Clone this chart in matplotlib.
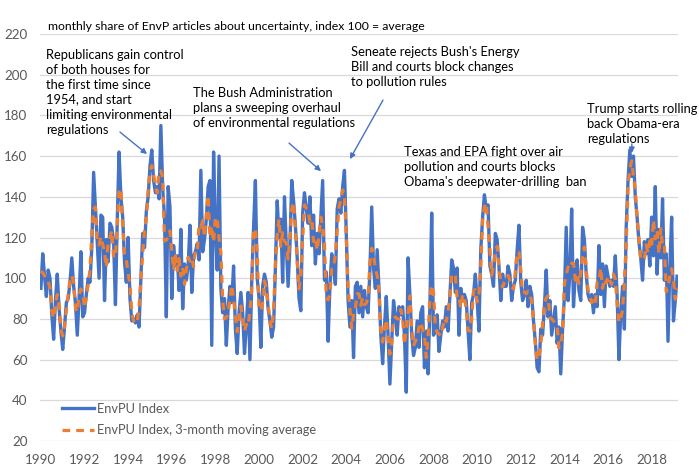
import matplotlib
matplotlib.use("Agg")
import matplotlib.pyplot as plt
import numpy as np
import pandas as pd

# ---------------- data (monthly, Jan 1990 - Mar 2019) ----------------
yr1990 = [95, 112, 101, 91, 104, 100, 82, 70, 89, 102, 85, 74]
yr1991 = [65, 76, 88, 90, 98, 110, 96, 88, 72, 90, 113, 81]
yr1992 = [83, 92, 100, 98, 115, 152, 135, 118, 100, 131, 130, 89]
yr1993 = [119, 108, 127, 125, 118, 87, 128, 162, 140, 130, 108, 98]
yr1994 = [120, 90, 79, 80, 78, 82, 76, 100, 122, 115, 133, 140]
yr1995 = [155, 163, 148, 142, 145, 139, 175, 144, 130, 81, 145, 135]
yr1996 = [90, 116, 106, 111, 94, 124, 85, 107, 99, 106, 126, 93]
yr1997 = [111, 113, 117, 109, 153, 113, 119, 129, 145, 148, 67, 162]
yr1998 = [124, 104, 160, 95, 83, 90, 67, 85, 96, 88, 106, 75]
yr1999 = [63, 83, 93, 83, 63, 76, 93, 60, 99, 125, 148, 100]
yr2000 = [90, 66, 96, 102, 98, 85, 79, 71, 76, 105, 138, 120]
yr2001 = [129, 98, 140, 116, 96, 116, 148, 138, 126, 110, 90, 84]
yr2002 = [132, 142, 134, 127, 140, 116, 131, 107, 122, 112, 130, 148]
yr2003 = [99, 103, 69, 96, 112, 105, 97, 134, 139, 132, 145, 153]
yr2004 = [122, 89, 76, 89, 61, 96, 98, 83, 96, 81, 94, 86]
yr2005 = [83, 104, 135, 105, 95, 114, 95, 72, 58, 76, 91, 72]
yr2006 = [48, 68, 89, 82, 72, 86, 82, 86, 72, 44, 110, 92]
yr2007 = [72, 62, 66, 79, 66, 83, 86, 56, 74, 53, 86, 132]
yr2008 = [72, 74, 82, 64, 72, 79, 76, 86, 74, 91, 109, 105]
yr2009 = [93, 105, 72, 95, 89, 92, 89, 74, 60, 88, 92, 102]
yr2010 = [89, 74, 114, 130, 141, 134, 136, 106, 102, 96, 122, 119]
yr2011 = [106, 89, 102, 96, 96, 106, 102, 89, 96, 99, 114, 126]
yr2012 = [98, 89, 92, 99, 86, 96, 92, 79, 69, 56, 54, 75]
yr2013 = [72, 86, 104, 81, 89, 72, 79, 86, 68, 76, 53, 75]
yr2014 = [91, 125, 89, 102, 134, 86, 102, 109, 94, 89, 125, 119]
yr2015 = [102, 92, 89, 92, 83, 92, 86, 116, 92, 107, 86, 106]
yr2016 = [101, 96, 99, 96, 111, 92, 60, 83, 96, 75, 125, 148]
yr2017 = [163, 150, 160, 140, 130, 118, 110, 99, 118, 112, 119, 106]
yr2018 = [130, 111, 145, 102, 124, 110, 139, 99, 112, 69, 105, 130]
yr2019 = [79, 89, 101]

envpu = (yr1990 + yr1991 + yr1992 + yr1993 + yr1994 + yr1995 + yr1996 + yr1997
         + yr1998 + yr1999 + yr2000 + yr2001 + yr2002 + yr2003 + yr2004 + yr2005
         + yr2006 + yr2007 + yr2008 + yr2009 + yr2010 + yr2011 + yr2012 + yr2013
         + yr2014 + yr2015 + yr2016 + yr2017 + yr2018 + yr2019)

year_labels = [str(y) for y in range(1990, 2019, 2)]
y_ticks = [20, 40, 60, 80, 100, 120, 140, 160, 180, 200, 220]

series_name = "EnvPU Index"
ma_name = "EnvPU Index, 3-month moving average"
subtitle = "monthly share of EnvP articles about uncertainty, index 100 = average"

# ---------------- figure ----------------
W, H = 699, 469
plt.rcParams['font.family'] = ['Lato', 'DejaVu Sans']
fig = plt.figure(figsize=(W / 100, H / 100), dpi=100)
fig.patch.set_facecolor('white')

L, R, T, B = 40, 678, 34, 441
ax = fig.add_axes([L / W, 1 - B / H, (R - L) / W, (B - T) / H])

s = pd.Series(envpu, dtype=float)
ma = s.rolling(3, center=True, min_periods=1).mean()
months = np.arange(len(s))

blue = '#4472C4'
orange = '#ED7D31'
ax.plot(months, s.values, color=blue, lw=2.4, solid_joinstyle='round', label=series_name, zorder=3)
ax.plot(months, ma.values, color=orange, lw=2.3, dashes=(2.4, 1.9), label=ma_name, zorder=4)

ax.set_xlim(-0.5, len(s) - 0.5)
ax.set_ylim(20, 220)
ax.set_yticks(y_ticks)
ax.set_xticks(np.arange(0, 24 * len(year_labels), 24))
ax.set_xticklabels(year_labels)
ax.grid(axis='y', color='#d9d9d9', lw=0.9, zorder=0)
ax.set_axisbelow(True)
for sp in ax.spines.values():
    sp.set_visible(False)
ax.tick_params(axis='both', length=0, labelsize=9.6, colors='#595959')
ax.tick_params(axis='y', pad=9)
ax.tick_params(axis='x', pad=9)

# legend
leg = ax.legend(loc='upper left', bbox_to_anchor=(62 / W, 1 - 403 / H),
                bbox_transform=fig.transFigure, frameon=False, fontsize=9.3,
                handlelength=2.45, handletextpad=0.25, labelspacing=0.72,
                borderpad=0, borderaxespad=0, labelcolor='#595959')

# ---------------- text ----------------
def ftext(x, y, txt, **kw):
    fig.text(x / W, 1 - y / H, txt, ha='left', va='center', fontsize=kw.pop('fontsize', 9.3),
             color='black', linespacing=1.3, **kw)

ftext(48, 27, subtitle, fontsize=8.8)
ftext(46, 92, "Republicans gain control\nof both houses for\nthe first time since\n1954, and start\nlimiting environmental\nregulations")
ftext(193, 108, "The Bush Administration\nplans a sweeping overhaul\nof environmental regulations")
ftext(351, 67, "Seneate rejects Bush's Energy\nBill and courts block changes\nto pollution rules")
ftext(404, 167, "Texas and EPA fight over air\npollution and courts blocks\nObama's deepwater-drilling  ban")
ftext(587, 124, "Trump starts rolling\nback Obama-era\nregulations")

# arrows (pointing at data peaks, in data coordinates)
arrow_kw = dict(arrowstyle='-|>', color=blue, lw=1.0, mutation_scale=8, shrinkA=0, shrinkB=0)
arrows = [((43.5, 171.8), (58.4, 161.0)),
          ((136.5, 166.4), (154.1, 152.6)),
          ((188.2, 187.5), (170.0, 158.5)),
          ((325.1, 166.0), (325.1, 161.5))]
for (x0, y0), (x1, y1) in arrows:
    ax.annotate('', xy=(x1, y1), xytext=(x0, y0), xycoords='data', textcoords='data',
                arrowprops=arrow_kw, annotation_clip=False, zorder=5)

fig.savefig('out.png', dpi=100, facecolor='white')
